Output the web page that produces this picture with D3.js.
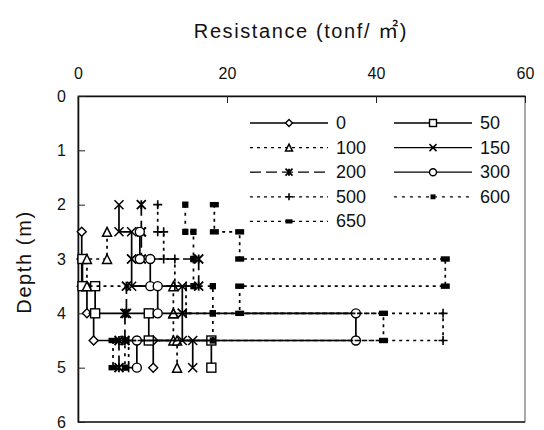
<!DOCTYPE html>
<html>
<head>
<meta charset="utf-8">
<script src="https://cdn.jsdelivr.net/npm/d3@7"></script>
<style>
  body { margin: 0; background: #fff; }
  svg { display: block; }
  text { font-family: "Liberation Sans", Arial, "Noto Sans CJK KR", sans-serif; fill: #111; }
</style>
</head>
<body>
<div id="chart"></div>
<script>
// layer boundaries (m); layer i spans depths[i] .. depths[i+1]
const depths = [2, 2.5, 3, 3.5, 4, 4.5, 5];
const seriesNames = ['0', '50', '100', '150', '200', '300', '500', '600', '650'];
// resistance per layer (tonf/m2), null = no reading
const r0 = [null, 0.5, 0.5, 1.2, 2.1, 10.1];
const r50 = [null, null, 0.6, 2.3, 9.5, 17.9];
const r100 = [null, 3.9, 1.2, 12.8, 12.8, 13.3];
const r150 = [5.5, 7.2, 7.2, 14.0, 14.0, 15.4];
const r200 = [8.5, 8.5, 16.2, 6.5, 6.3, 5.5];
const r300 = [null, 8.3, 9.7, 10.7, 37.3, 7.9];
const r500 = [10.7, 11.5, 13.0, 14.5, 49.0, 6.8];
const r600 = [14.4, 15.5, 15.5, 18.1, 18.1, 6.3];
const r650 = [18.3, 21.7, 49.3, 21.7, 41.0, 4.7];
const xTicks = [0, 20, 40, 60];
const yTicks = [0, 1, 2, 3, 4, 5, 6];

const seriesValues = [r0, r50, r100, r150, r200, r300, r500, r600, r650];

// line and marker style per series
const styles = {
  '0': {dash: null, marker: 'diamond'},
  '50': {dash: null, marker: 'square'},
  '100': {dash: '3,4', marker: 'triangle'},
  '150': {dash: null, marker: 'cross'},
  '200': {dash: '11,5', marker: 'star'},
  '300': {dash: null, marker: 'circle'},
  '500': {dash: '3,4', marker: 'plus'},
  '600': {dash: '3,5', marker: 'smallsq'},
  '650': {dash: '3,4', marker: 'bar'},
};

const W = 544, H = 430;
const margin = {top: 96, right: 19, bottom: 8, left: 78};
const width = W - margin.left - margin.right;
const height = H - margin.top - margin.bottom;

const svg = d3.select('#chart').append('svg').attr('width', W).attr('height', H);

const scale = {
  x: d3.scaleLinear().domain([0, 60]).range([0, width]),
  y: d3.scaleLinear().domain([0, 6]).range([0, height]),
};

const g = svg.append('g').attr('transform', `translate(${margin.left},${margin.top})`);

// frame: light top/right, heavier axes drawn on top
g.append('rect').attr('width', width).attr('height', height)
  .attr('fill', 'none').attr('stroke', '#555').attr('stroke-width', 1);
g.append('line').attr('x1', 0).attr('x2', width).attr('y1', height).attr('y2', height)
  .attr('stroke', '#222').attr('stroke-width', 1.5);

const axisX = g.append('g')
  .call(d3.axisTop(scale.x).tickValues(xTicks).tickSizeInner(-7).tickSizeOuter(0).tickPadding(17));
const axisY = g.append('g')
  .call(d3.axisLeft(scale.y).tickValues(yTicks).tickFormat(d3.format('d'))
    .tickSizeInner(-7).tickSizeOuter(0).tickPadding(12));
[axisX, axisY].forEach((a) => {
  a.selectAll('text').style('font-size', '16px').attr('fill', '#111');
  a.selectAll('line').attr('stroke', '#222');
  a.select('.domain').attr('stroke', '#111').attr('stroke-width', 1.6);
});

svg.append('text').attr('x', 301).attr('y', 38).attr('text-anchor', 'middle')
  .style('font-size', '20px').style('letter-spacing', '1.6px').text('Resistance (tonf/ ㎡)');
svg.append('text').attr('transform', 'translate(31,262) rotate(-90)').attr('text-anchor', 'middle')
  .style('font-size', '20px').style('letter-spacing', '1.6px').text('Depth (m)');

function stepPoints(vals) {
  let pts = [];
  vals.forEach((v, i) => {
    if (v === null) return;
    pts.push([v, depths[i]], [v, depths[i + 1]]);
  });
  return pts;
}

function drawMarker(sel, type, s) {
  let h = s / 2;
  if (type === 'diamond') {
    sel.append('path').attr('d', `M0,${-h}L${h},0L0,${h}L${-h},0Z`).attr('fill', '#fff').attr('stroke', '#000').attr('stroke-width', 1.4);
  } else if (type === 'square') {
    sel.append('rect').attr('x', -h).attr('y', -h).attr('width', s).attr('height', s).attr('fill', '#fff').attr('stroke', '#000').attr('stroke-width', 1.4);
  } else if (type === 'triangle') {
    sel.append('path').attr('d', `M0,${-h}L${h},${h}L${-h},${h}Z`).attr('fill', '#fff').attr('stroke', '#000').attr('stroke-width', 1.5);
  } else if (type === 'cross') {
    sel.append('path').attr('d', `M${-h},${-h}L${h},${h}M${h},${-h}L${-h},${h}`).attr('stroke', '#000').attr('stroke-width', 1.5);
  } else if (type === 'star') {
    sel.append('path').attr('d', `M${-h},${-h}L${h},${h}M${h},${-h}L${-h},${h}M0,${-h}L0,${h}`).attr('stroke', '#000').attr('stroke-width', 1.8);
  } else if (type === 'circle') {
    sel.append('circle').attr('r', h).attr('fill', '#fff').attr('stroke', '#000').attr('stroke-width', 1.4);
  } else if (type === 'plus') {
    sel.append('path').attr('d', `M${-h},0L${h},0M0,${-h}L0,${h}`).attr('stroke', '#000').attr('stroke-width', 1.6);
  } else if (type === 'smallsq') {
    sel.append('rect').attr('x', -h * 0.7).attr('y', -h * 0.7).attr('width', s * 0.7).attr('height', s * 0.7).attr('fill', '#000');
  } else if (type === 'bar') {
    sel.append('rect').attr('x', -h).attr('y', -h * 0.6).attr('width', s).attr('height', s * 0.6).attr('fill', '#000');
  }
}

const line = d3.line().x((d) => scale.x(d[0])).y((d) => scale.y(d[1]));

seriesNames.forEach((name, k) => {
  let st = styles[name];
  let pts = stepPoints(seriesValues[k]);
  g.append('path').datum(pts).attr('d', line)
    .attr('fill', 'none').attr('stroke', '#000').attr('stroke-width', 1.7)
    .attr('stroke-dasharray', st.dash);
  g.selectAll(null).data(pts).enter().append('g')
    .attr('transform', (d) => `translate(${scale.x(d[0])},${scale.y(d[1])})`)
    .each(function() { drawMarker(d3.select(this), st.marker, 9); });
});

// legend, two columns
const legend = svg.append('g');
seriesNames.forEach((name, k) => {
  let st = styles[name];
  let col = k % 2, row = Math.floor(k / 2);
  let x0 = col === 0 ? 250 : 394;
  let y0 = 123 + row * 24.6;
  let item = legend.append('g').attr('transform', `translate(${x0},${y0})`);
  item.append('line').attr('x1', 0).attr('x2', 78).attr('stroke', '#000').attr('stroke-width', 1.3)
    .attr('stroke-dasharray', st.dash);
  drawMarker(item.append('g').attr('transform', 'translate(39,0)'), st.marker, 7);
  item.append('text').attr('x', 86).attr('y', 6).style('font-size', '18px').text(name);
});
</script>
</body>
</html>
